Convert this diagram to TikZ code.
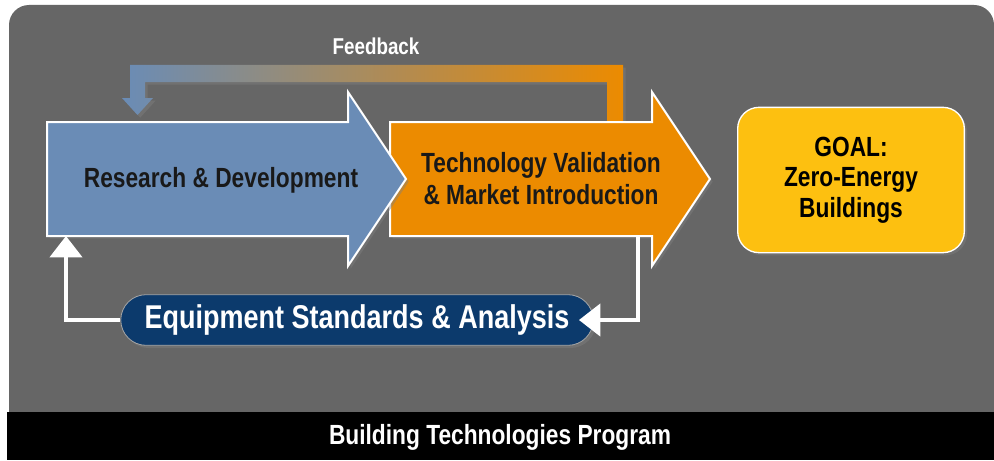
\documentclass[tikz,border=0pt]{standalone}
\usepackage{fontspec}
\setmainfont{Liberation Sans}[FakeStretch=0.82]
\usetikzlibrary{positioning,shapes.misc,arrows.meta,shadows}

\definecolor{panelgray}{HTML}{666666}
\definecolor{rdblue}{HTML}{6A8CB6}
\definecolor{tvorange}{HTML}{EC8B00}
\definecolor{goalyellow}{HTML}{FDC010}
\definecolor{esnavy}{HTML}{0C3A6C}
\definecolor{fbmid}{RGB}{150,148,128}

\tikzset{
  softshadow/.style={drop shadow={shadow xshift=2pt, shadow yshift=-2pt, opacity=.45}},
  bigarrow/.style={draw=white, line width=1.5pt, softshadow},
  labeltext/.style={font=\bfseries\fontsize{20.8}{24}\selectfont, align=center, text=black!90},
  goalbox/.style={rectangle, rounded corners=16pt, fill=goalyellow, draw=white, line width=1pt,
    minimum width=170pt, minimum height=109pt, softshadow,
    font=\bfseries\fontsize{20.8}{23}\selectfont, align=center},
  standards/.style={rounded rectangle, fill=esnavy, draw=gray!70, line width=.6pt,
    minimum width=361pt, minimum height=38pt, softshadow, text=white,
    font=\bfseries\fontsize{24.7}{28}\selectfont},
  returnline/.style={draw=white, line width=3pt, -{Triangle[length=16pt,width=24pt]}},
}

\begin{document}
\begin{tikzpicture}[x=0.75pt,y=-0.75pt]
  \useasboundingbox[fill=white] (0,0) rectangle (994,460);
  \fill[panelgray, rounded corners=15pt] (9,5) rectangle (994,440);
  \fill[black] (7,412) rectangle (994,460);

  % feedback loop
  \shade[left color=rdblue, middle color=fbmid, right color=tvorange, softshadow]
    (607,122) -- (607,82) -- (145,82) -- (145,98) -- (153,98) -- (137.5,115)
    -- (122,98) -- (130,98) -- (130,65) -- (623,65) -- (623,122) -- cycle;
  \node[white, font=\bfseries\fontsize{17.2}{20}\selectfont] (fb) at (376,46) {Feedback};

  % main arrows
  \path[bigarrow, fill=tvorange]
    (390,122) -- (652,122) -- (652,92) -- (710,179) -- (652,266) -- (652,236) -- (390,236) -- cycle;
  \path[bigarrow, fill=rdblue]
    (47,122) -- (348,122) -- (348,92) -- (406,179) -- (348,266) -- (348,236) -- (47,236) -- cycle;
  \coordinate (rdin) at (66,236);
  \coordinate (tvout) at (638,236);

  \node[labeltext] (rd) at (221,180) {Research \& Development};
  \node[labeltext] (tv) at (541,179) {Technology Validation\\\& Market Introduction};
  \node[goalbox] (goal) at (851,180) {GOAL:\\Zero-Energy\\Buildings};

  % standards loop
  \node[standards] (es) at (357,320) {Equipment Standards \& Analysis};
  \draw[returnline] (es.west) -| (rdin);
  \draw[returnline] (tvout) |- ([xshift=-11pt]es.east);

  \node[white, font=\bfseries\fontsize{20.8}{24}\selectfont] (btp) at (500,437) {Building Technologies Program};
\end{tikzpicture}
\end{document}
